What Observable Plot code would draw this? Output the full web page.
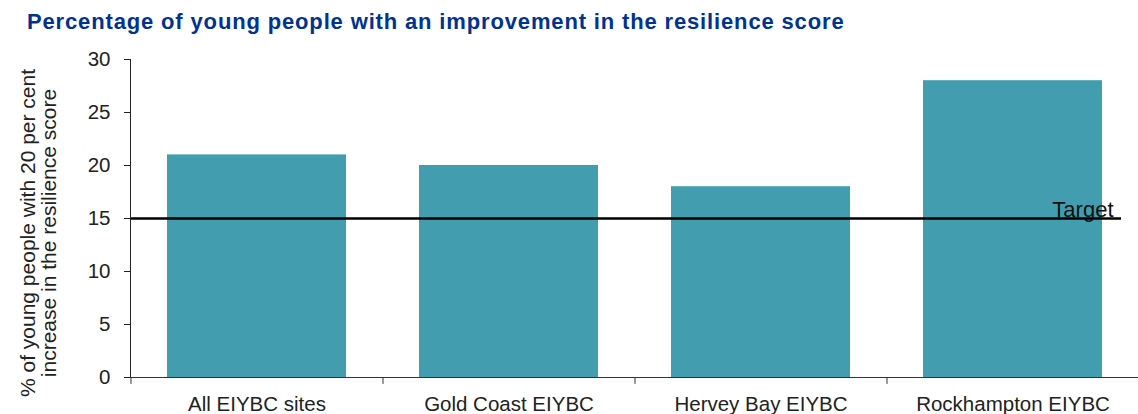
<!DOCTYPE html>
<html>
<head>
<meta charset="utf-8">
<script src="https://cdn.jsdelivr.net/npm/d3@7"></script>
<script src="https://cdn.jsdelivr.net/npm/@observablehq/plot@0.6"></script>
<style>
  html, body { margin: 0; padding: 0; background: #fff; }
  #title { height: 40px; line-height: 43px; padding-left: 27px; font-family: "Liberation Sans", Arial, sans-serif; font-weight: bold; font-size: 22px; letter-spacing: 0.85px; color: #00338D; white-space: nowrap; overflow: visible; }
  #chart svg { display: block; }
</style>
</head>
<body>
<div id="title">Percentage of young people with an improvement in the resilience score</div>
<div id="chart"></div>
<script>
const categories = ["All EIYBC sites", "Gold Coast EIYBC", "Hervey Bay EIYBC", "Rockhampton EIYBC"];
const values = [21, 20, 18, 28];
const target = 15;
const yTicks = [0, 5, 10, 15, 20, 25, 30];
const yLabel = "% of young people with 20 per cent\nincrease in the resilience score";

const data = categories.map((c, i) => ({category: c, value: values[i]}));

const chart = Plot.plot({
  width: 1138,
  height: 374,
  marginTop: 19,
  marginBottom: 37,
  marginLeft: 130,
  marginRight: 0,
  style: {fontFamily: "'Liberation Sans', Arial, sans-serif", fontSize: "20px", color: "#222", background: "#fff"},
  x: {domain: categories, paddingInner: 0.29, paddingOuter: 0.145, label: null},
  y: {domain: [0, 30], ticks: yTicks, label: null},
  marks: [
    Plot.barY(data, {x: "category", y: "value", fill: "#429DAF"}),
    Plot.ruleY([target], {stroke: "#000", strokeWidth: 2.5, insetRight: 17}),
    Plot.text(["Target"], {frameAnchor: "right", y: () => target, text: d => d, textAnchor: "end", lineAnchor: "bottom", dx: -25, dy: -2, fontSize: 22, fill: "#111"}),
    Plot.ruleY([0], {stroke: "#333", strokeWidth: 1}),
    Plot.frame({anchor: "left", stroke: "#222"}),
    Plot.axisY({ticks: yTicks, tickSize: 6, tickPadding: 14, label: null, fontSize: 20.5}),
    Plot.axisX({tickSize: 0, tickPadding: 19, label: null, fontSize: 20.5}),
    Plot.ruleX(categories, {x: d => d, y1: 0, y2: -0.65, dx: -126, stroke: "#333"}),
    Plot.text([yLabel], {frameAnchor: "left", text: d => d, textAnchor: "middle", rotate: -90, dx: -92, dy: 14.5, lineHeight: 1.0, fontSize: 21, fill: "#222"})
  ]
});
document.getElementById("chart").appendChild(chart);
</script>
</body>
</html>
